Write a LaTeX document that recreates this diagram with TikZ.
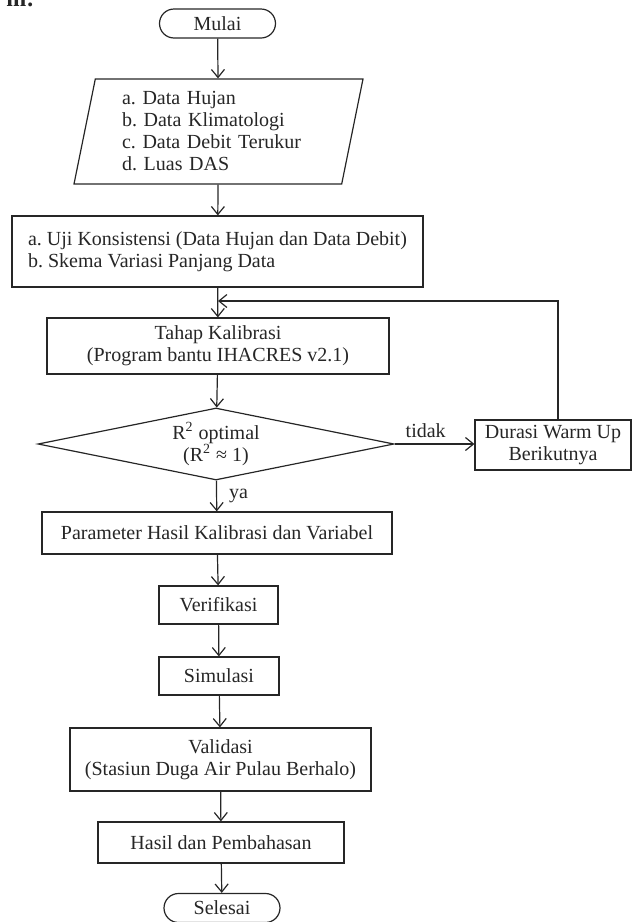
\documentclass[tikz,border=0pt]{standalone}
\usepackage{fontspec}
\setmainfont{Liberation Serif}
\usetikzlibrary{shapes.geometric,shapes.misc,arrows.meta}
\frenchspacing
\begin{document}
\begin{tikzpicture}[x=0.5pt,y=-0.5pt,line width=0.6pt,color=black!85,
        font=\fontsize{10}{11}\selectfont,
        >={Straight Barb[length=4pt,width=6.5pt]},
        box/.style={draw,rectangle,inner sep=2pt,align=center},
        term/.style={draw,rounded rectangle,minimum width=60pt,minimum height=14.5pt,inner sep=1pt},
        io/.style={draw,trapezium,trapezium left angle=75,trapezium right angle=105,
            trapezium stretches body,inner sep=0pt,text width=96.5pt,align=left},
        cek/.style={draw,diamond,aspect=4.9,inner sep=0pt,minimum width=178pt,minimum height=36pt,align=center}]
        \useasboundingbox (0,0) rectangle (632,922);
        \node[font=\fontsize{12}{14}\selectfont\bfseries,anchor=base east,inner sep=0pt] at (35,6) (judul) {m:};
        \node[term] at (217.5,23.5) (mulai) {Mulai};
        \node[io,minimum width=144.5pt,minimum height=52.5pt] at (218.5,131.5) (data)
            {a. Data Hujan\\b. Data Klimatologi\\c. Data Debit Terukur\\d. Luas DAS};
        \node[box,minimum width=205.5pt,minimum height=35.5pt,align=left]
            at (217.5,251.5) (uji)
            {a. Uji Konsistensi (Data Hujan dan Data Debit)\\b. Skema Variasi Panjang Data};
        \node[box,minimum width=171pt,minimum height=28pt] at (218,346) (tahap)
            {Tahap Kalibrasi\\(Program bantu IHACRES v2.1)};
        \node[cek] at (216,444) (r2) {R\textsuperscript{2} optimal\\(R\textsuperscript{2} ≈ 1)};
        \node[box,minimum width=78pt,minimum height=25pt] at (553,445) (durasi)
            {Durasi Warm Up\\Berikutnya};
        \node[box,minimum width=175pt,minimum height=21pt] at (217,533) (param)
            {Parameter Hasil Kalibrasi dan Variabel};
        \node[box,minimum width=59.5pt,minimum height=19pt] at (218.5,605) (verif) {Verifikasi};
        \node[box,minimum width=60pt,minimum height=19pt] at (219,676) (simul) {Simulasi};
        \node[box,minimum width=150.5pt,minimum height=31.5pt] at (220.5,759.5) (valid)
            {Validasi\\(Stasiun Duga Air Pulau Berhalo)};
        \node[box,minimum width=123pt,minimum height=20.5pt] at (221,842.5) (hasil)
            {Hasil dan Pembahasan};
        \node[term] at (222,908) (selesai) {Selesai};
        \coordinate (balik) at (218,301);
        \draw[->] (mulai)--(data);
        \draw[->] (data)--(uji);
        \draw[->] (uji)--(tahap);
        \draw[->] (tahap)--(r2);
        \draw[->] (r2)-- node [pos=0.5,anchor=west,inner sep=6pt] {ya} (param);
        \draw[->] (r2.east)-- node [pos=0.39,anchor=south,inner sep=3pt] {tidak} (r2.east -| durasi.west);
        \draw[->] ([xshift=2.5pt]durasi.north) |- (balik);
        \draw[->] (param)--(verif);
        \draw[->] (verif)--(simul);
        \draw[->] (simul)--(valid);
        \draw[->] (valid)--(hasil);
        \draw[->] (hasil)--(selesai);
    \end{tikzpicture}
\end{document}
